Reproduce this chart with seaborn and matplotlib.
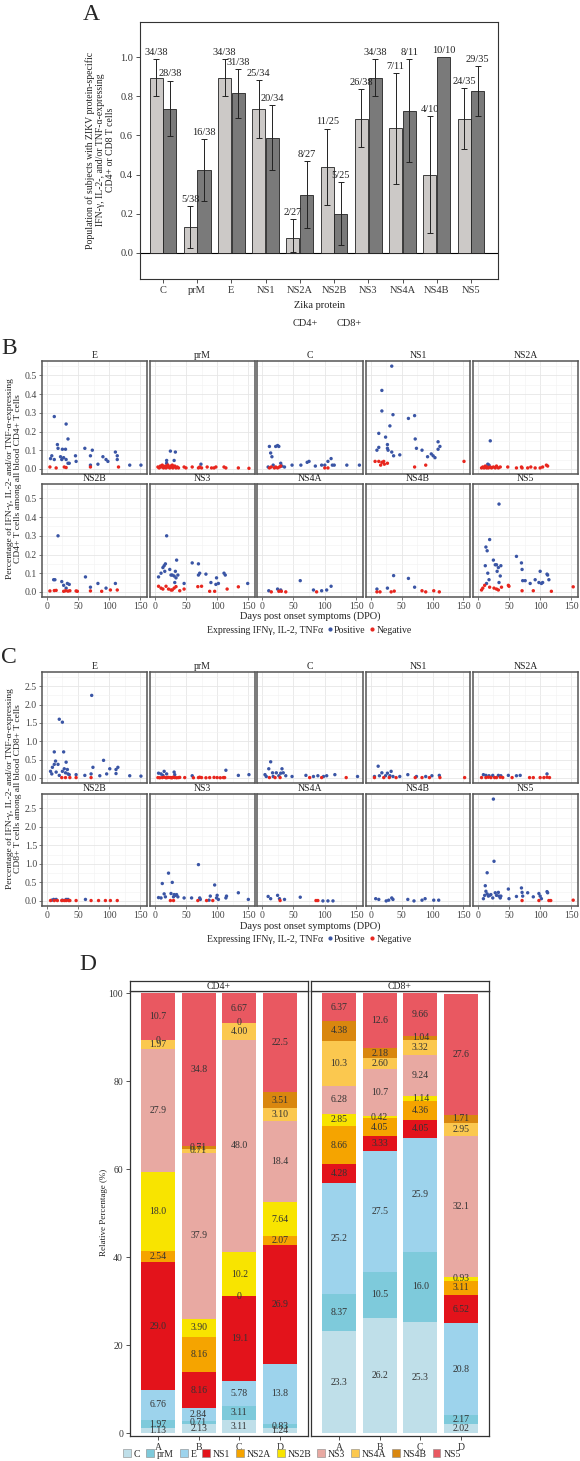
import numpy as np
import pandas as pd
import seaborn as sns
import matplotlib.pyplot as plt
from matplotlib.lines import Line2D
from matplotlib.patches import Patch
from matplotlib.ticker import FormatStrFormatter, MultipleLocator

# ---------------- data ----------------
proteins = ["C", "prM", "E", "NS1", "NS2A", "NS2B", "NS3", "NS4A", "NS4B", "NS5"]

# panel A: fraction of responders, with CI
cd4_prop = [0.895, 0.132, 0.895, 0.735, 0.074, 0.44, 0.684, 0.636, 0.40, 0.686]
cd4_lo = [0.80, 0.025, 0.80, 0.585, 0.005, 0.245, 0.54, 0.35, 0.10, 0.53]
cd4_hi = [0.99, 0.24, 0.99, 0.885, 0.175, 0.635, 0.835, 0.92, 0.70, 0.84]
cd4_lab = ["34/38", "5/38", "34/38", "25/34", "2/27", "11/25", "26/38", "7/11", "4/10", "24/35"]
cd8_prop = [0.737, 0.421, 0.816, 0.588, 0.296, 0.20, 0.895, 0.727, 1.0, 0.829]
cd8_lo = [0.595, 0.265, 0.69, 0.425, 0.125, 0.04, 0.80, 0.465, 1.0, 0.70]
cd8_hi = [0.88, 0.58, 0.94, 0.755, 0.47, 0.36, 0.99, 0.99, 1.0, 0.955]
cd8_lab = ["28/38", "16/38", "31/38", "20/34", "8/27", "5/25", "34/38", "8/11", "10/10", "29/35"]

# panels B / C: (days post onset, percentage) per protein
facet_order = ["E", "prM", "C", "NS1", "NS2A", "NS2B", "NS3", "NS4A", "NS4B", "NS5"]

cd4_pos = {
    "E": [(6, .055), (8, .07), (12, .28), (12, .05), (17, .13), (18, .11), (22, .065), (24, .05), (25, .105),
          (27, .06), (30, .105), (31, .24), (31, .05), (34, .16), (34, .03), (36, .03), (46, .07), (47, .04),
          (61, .11), (70, .07), (70, .02), (73, .10), (82, .025), (90, .065), (95, .05), (98, .04), (110, .09),
          (113, .07), (113, .05), (133, .02), (151, .02)],
    "prM": [(19, .045), (19, .03), (25, .095), (31, .045), (33, .09), (74, .025)],
    "C": [(10, .01), (12, .12), (14, .085), (16, .065), (18, .02), (22, .12), (25, .125), (27, .12), (30, .03),
          (32, .015), (36, .01), (48, .02), (62, .02), (72, .035), (75, .04), (85, .015), (95, .02), (100, .02),
          (105, .04), (110, .055), (112, .02), (115, .02), (135, .02), (155, .02)],
    "NS1": [(10, .10), (13, .115), (13, .19), (18, .42), (18, .31), (24, .17), (27, .13), (27, .11), (28, .10),
            (31, .23), (34, .09), (34, .55), (36, .29), (37, .07), (47, .075), (61, .27), (71, .285), (72, .16),
            (74, .11), (83, .10), (92, .065), (98, .08), (101, .07), (104, .06), (109, .145), (109, .105), (112, .12)],
    "NS2A": [(16, .025), (18, .02), (20, .15)],
    "NS2B": [(11, .065), (13, .065), (18, .30), (24, .055), (27, .035), (31, .02), (33, .045), (36, .04),
             (62, .08), (70, .025), (82, .045), (95, .02), (110, .045)],
    "NS3": [(6, .08), (10, .10), (13, .13), (15, .14), (16, .11), (17, .15), (19, .30), (24, .12), (26, .09),
            (28, .09), (31, .085), (32, .05), (33, .11), (34, .075), (35, .17), (37, .09), (47, .045), (60, .155),
            (70, .09), (70, .15), (72, .10), (82, .095), (90, .05), (98, .04), (99, .075), (102, .045), (111, .10),
            (113, .09), (149, .045)],
    "NS4A": [(11, .006), (25, .015), (30, .01), (61, .06), (82, .01), (95, .006), (103, .01), (110, .03)],
    "NS4B": [(10, .015), (27, .02), (37, .087), (61, .072), (71, .025)],
    "NS5": [(13, .24), (14, .045), (15, .22), (16, .10), (18, .065), (19, .28), (12, .14), (25, .17), (28, .145),
            (30, .145), (31, .11), (33, .13), (34, .05), (34, .47), (36, .085), (37, .14), (62, .19), (70, .155),
            (71, .12), (72, .06), (76, .06), (84, .045), (92, .065), (98, .05), (100, .11), (102, .045), (104, .05),
            (111, .095), (112, .09), (114, .065)],
}
cd4_neg = {
    "E": [(5, .01), (15, .005), (28, .01), (31, .007), (70, .01), (115, .01)],
    "prM": [(5, .01), (7, .005), (9, .015), (10, .01), (12, .02), (14, .005), (15, .01), (17, .015), (18, .005),
            (20, .01), (21, .02), (23, .01), (24, .005), (26, .015), (27, .01), (28, .02), (29, .005), (30, .01),
            (32, .015), (34, .005), (36, .01), (38, .005), (47, .01), (50, .005), (60, .01), (70, .005), (72, .01),
            (75, .005), (84, .01), (91, .005), (95, .005), (98, .01), (111, .01), (114, .005), (134, .005), (151, .003)],
    "C": [(12, .005), (15, .01), (20, .005), (22, .01), (25, .005), (28, .01), (30, .015), (100, .005), (105, .005)],
    "NS1": [(7, .04), (13, .04), (16, .02), (18, .035), (21, .04), (22, .025), (27, .03), (71, .01), (89, .02), (151, .04)],
    "NS2A": [(6, .005), (8, .01), (10, .005), (12, .015), (14, .005), (15, .01), (17, .005), (20, .01), (22, .005),
             (25, .01), (28, .005), (30, .015), (33, .005), (36, .01), (48, .01), (62, .005), (70, .01), (71, .005),
             (80, .005), (85, .01), (92, .005), (100, .005), (104, .01), (110, .02), (112, .015)],
    "NS2B": [(5, .005), (12, .007), (15, .008), (27, .003), (30, .006), (34, .004), (37, .006), (47, .005),
             (49, .003), (70, .005), (88, .003), (102, .01), (113, .01)],
    "NS3": [(6, .03), (10, .02), (13, .015), (18, .03), (22, .015), (26, .01), (28, .01), (31, .02), (34, .028),
            (40, .006), (47, .015), (69, .028), (75, .03), (88, .003), (96, .003), (116, .015), (134, .027)],
    "NS4A": [(15, .0), (27, .003), (31, .003), (38, .0), (87, .0)],
    "NS4B": [(10, .0), (15, .0), (33, .0), (38, .004), (83, .006), (89, .0), (102, .006), (111, .0)],
    "NS5": [(6, .01), (8, .02), (11, .035), (19, .025), (26, .02), (30, .015), (33, .01), (38, .025), (49, .035),
            (50, .03), (71, .006), (89, .006), (118, .003), (153, .027)],
}

cd8_pos = {
    "E": [(6, .18), (8, .11), (9, .29), (12, .37), (12, .71), (14, .46), (15, .16), (18, .37), (20, 1.6), (20, .07),
          (25, 1.52), (25, .18), (27, .71), (28, .25), (30, .14), (31, .43), (33, .23), (34, .11), (36, .09),
          (47, .09), (61, .07), (71, .11), (72, 2.25), (74, .29), (85, .06), (91, .48), (96, .11), (101, .25),
          (111, .23), (111, .12), (114, .29), (133, .06), (151, .05)],
    "prM": [(6, .13), (10, .11), (13, .07), (15, .18), (19, .11), (31, .16), (32, .09), (60, .06), (114, .21),
            (134, .07), (151, .09)],
    "C": [(5, .09), (7, .04), (11, .25), (14, .44), (17, .14), (18, .04), (23, .14), (27, .06), (30, .13), (32, .25),
          (34, .14), (38, .06), (48, .04), (70, .07), (82, .04), (89, .06), (98, .04), (103, .06), (116, .09), (152, .04)],
    "NS1": [(6, .04), (12, .32), (14, .06), (18, .14), (24, .06), (27, .13), (31, .06), (33, .18), (36, .04),
            (47, .04), (60, .09), (74, .04), (89, .04), (99, .06), (111, .07)],
    "NS2A": [(9, .09), (13, .07), (18, .06), (24, .07), (33, .07), (37, .06), (49, .07), (62, .06), (68, .07), (111, .11)],
    "NS2B": [(8, .02), (11, .04), (15, .04), (25, .02), (31, .04), (34, .04), (62, .04)],
    "NS3": [(6, .09), (10, .08), (12, .47), (15, .19), (17, .11), (22, .75), (26, .20), (28, .50), (30, .11),
            (31, .17), (33, .15), (35, .17), (37, .11), (47, .08), (59, .08), (70, .98), (72, .08), (73, .04),
            (87, .02), (89, .13), (96, .43), (99, .08), (100, .15), (102, .04), (114, .08), (115, .13), (134, .22),
            (150, .04)],
    "NS4A": [(10, .12), (14, .06), (25, .15), (28, .06), (36, .04), (61, .10), (97, .0), (105, .0), (113, .0)],
    "NS4B": [(8, .06), (13, .04), (25, .0), (29, .02), (34, .08), (36, .04), (60, .04), (70, .0), (83, .02),
             (88, .06), (102, .02), (110, .02)],
    "NS5": [(9, .06), (11, .15), (12, .41), (13, .26), (15, .76), (15, .19), (17, .13), (19, .15), (21, .17),
            (24, .08), (25, 2.75), (26, 1.07), (28, .22), (30, .15), (33, .23), (34, .13), (36, .08), (37, .13),
            (49, .32), (50, .06), (62, .12), (70, .35), (71, .23), (72, .13), (80, .22), (89, .11), (98, .20),
            (100, .13), (102, .06), (111, .25), (112, .22)],
}
cd8_neg = {
    "E": [(24, .01), (30, .01), (37, .01), (47, .01), (71, .01)],
    "prM": [(5, .01), (8, .005), (12, .01), (15, .02), (18, .005), (20, .01), (22, .015), (25, .01), (27, .005),
            (28, .01), (30, .02), (32, .01), (35, .005), (38, .01), (40, .015), (48, .01), (62, .005), (70, .01),
            (72, .02), (75, .01), (82, .005), (88, .01), (95, .015), (100, .01), (105, .005), (110, .01), (112, .01)],
    "C": [(12, .01), (21, .01), (29, .01), (76, .01), (95, .01), (134, .01)],
    "NS1": [(6, .01), (21, .01), (30, .01), (41, .01), (72, .01), (83, .01), (95, .01), (112, .01), (152, .01)],
    "NS2A": [(6, .01), (13, .01), (17, .02), (21, .01), (27, .01), (30, .01), (36, .02), (40, .01), (55, .01),
             (83, .01), (89, .01), (100, .01), (106, .01), (111, .02), (115, .01)],
    "NS2B": [(6, .01), (12, .01), (17, .01), (24, .01), (28, .01), (31, .01), (35, .01), (37, .01), (47, .01),
             (71, .01), (83, .01), (94, .01), (102, .01), (113, .01)],
    "NS3": [(25, .01), (30, .01), (69, .01), (83, .01), (93, .01)],
    "NS4A": [(29, .01), (86, .01), (89, .01)],
    "NS4B": [],
    "NS5": [(71, .01), (98, .01), (114, .01), (117, .01), (153, .02)],
}

# panel D: relative percentage of each protein, groups A-D
groups = ["A", "B", "C", "D"]
d_cd4 = {
    "C": [1.13, 2.13, 3.11, 1.24], "prM": [1.97, 0.71, 3.11, 0.83], "E": [6.76, 2.84, 5.78, 13.8],
    "NS1": [29.0, 8.16, 19.1, 26.9], "NS2A": [2.54, 8.16, 0, 2.07], "NS2B": [18.0, 3.90, 10.2, 7.64],
    "NS3": [27.9, 37.9, 48.0, 18.4], "NS4A": [1.97, 0.71, 4.00, 3.10], "NS4B": [0, 0.71, 0, 3.51],
    "NS5": [10.7, 34.8, 6.67, 22.5],
}
d_cd8 = {
    "C": [23.3, 26.2, 25.3, 2.02], "prM": [8.37, 10.5, 16.0, 2.17], "E": [25.2, 27.5, 25.9, 20.8],
    "NS1": [4.28, 3.33, 4.05, 6.52], "NS2A": [8.66, 4.05, 4.36, 3.11], "NS2B": [2.85, 0.42, 1.14, 0.93],
    "NS3": [6.28, 10.7, 9.24, 32.1], "NS4A": [10.3, 2.60, 3.32, 2.95], "NS4B": [4.38, 2.18, 1.04, 1.71],
    "NS5": [6.37, 12.6, 9.66, 27.6],
}
d_colors = ["#bfdfe9", "#7ecadb", "#9dd3ec", "#e3131b", "#f5a400", "#f8e400",
            "#e8a9a2", "#fbc84f", "#d9870f", "#e95861"]

# ---------------- figure ----------------
W, H = 580, 1461
sns.set_theme(style="white")
plt.rcParams["font.family"] = ["Liberation Serif", "DejaVu Serif"]
fig = plt.figure(figsize=(W / 100, H / 100), dpi=100)
fig.patch.set_facecolor("white")


def add_ax(x0, y0, x1, y1):
    return fig.add_axes([x0 / W, 1 - y1 / H, (x1 - x0) / W, (y1 - y0) / H])


def fx(x):
    return x / W


def fy(y):
    return 1 - y / H


# ---- panel A ----
fig.text(fx(91), fy(15), "A", fontsize=17, ha="center", va="center")
axA = add_ax(140, 22, 498, 279)
dfA = pd.DataFrame({"protein": proteins * 2,
                    "cell": ["CD4+"] * 10 + ["CD8+"] * 10,
                    "prop": cd4_prop + cd8_prop})
sns.barplot(data=dfA, x="protein", y="prop", hue="cell", order=proteins,
            hue_order=["CD4+", "CD8+"], palette=["#cdc9c6", "#7a7a7a"],
            edgecolor="#222222", linewidth=0.6, width=0.8, gap=0.05,
            errorbar=None, legend=False, ax=axA)
axA.axhline(0, color="black", lw=0.8, zorder=0)
for p in axA.patches:
    if p.get_width() <= 0:
        continue
    cx = p.get_x() + p.get_width() / 2
    i = int(round(cx))
    if cx > i:
        val, lo, hi, lab = cd8_prop[i], cd8_lo[i], cd8_hi[i], cd8_lab[i]
    else:
        val, lo, hi, lab = cd4_prop[i], cd4_lo[i], cd4_hi[i], cd4_lab[i]
    if hi > lo:
        axA.errorbar(cx, val, yerr=[[val - lo], [hi - val]], fmt="none",
                     ecolor="#222222", elinewidth=0.7, capsize=2.3, capthick=0.7)
    axA.annotate(lab, (cx, hi), xytext=(0, 1.5), textcoords="offset points",
                 ha="center", va="bottom", fontsize=7.5, color="#222222")
axA.set_xlim(-0.67, 9.79)
axA.set_ylim(-0.133, 1.179)
axA.set_yticks(np.arange(0, 1.01, 0.2))
axA.yaxis.set_major_formatter(FormatStrFormatter("%.1f"))
axA.set_xlabel("")
axA.set_ylabel("")
axA.tick_params(bottom=True, left=True, length=3, width=0.6, colors="#333333",
                labelsize=7.5, pad=2)
for s in axA.spines.values():
    s.set_color("#333333")
    s.set_linewidth(0.8)
fig.text(fx(100), fy(150), "Population of subjects with ZIKV protein-specific\n"
         "IFN-γ, IL-2-, and/or TNF-α-expressing\nCD4+ or CD8 T cells",
         rotation=90, ha="center", va="center", fontsize=7, linespacing=1.15, color="#222222")
fig.text(fx(319), fy(305), "Zika protein", ha="center", va="center", fontsize=7.5, color="#222222")
fig.legend(handles=[Patch(facecolor="white", edgecolor="none")] * 2, labels=["CD4+", "CD8+"],
           ncol=2, loc="center", bbox_to_anchor=(fx(322), fy(323)), frameon=False,
           fontsize=7.5, handlelength=0.8, handletextpad=0.2, columnspacing=0.8)

# ---- panels B and C ----
facet_cols = [(42, 147), (150, 255), (257, 363), (366, 470), (473, 578)]
pos_col, neg_col = "#3a55a5", "#e8261e"


def draw_facets(pos, neg, rows, ylim, ystep, ylab, xlab_y, leg_y, letter, letter_y):
    fig.text(fx(9), fy(letter_y), letter, fontsize=17, ha="center", va="center")
    for r, (y0, y1) in enumerate(rows):
        for c, (x0, x1) in enumerate(facet_cols):
            prot = facet_order[r * 5 + c]
            ax = add_ax(x0, y0, x1, y1)
            pts = pos[prot] + neg[prot]
            df = pd.DataFrame(pts, columns=["day", "val"])
            df["status"] = ["Positive"] * len(pos[prot]) + ["Negative"] * len(neg[prot])
            sns.scatterplot(data=df, x="day", y="val", hue="status",
                            hue_order=["Positive", "Negative"], palette=[pos_col, neg_col],
                            s=6, linewidth=0, legend=False, ax=ax)
            ax.set_xlim(-7.7, 160.7)
            ax.set_ylim(*ylim)
            ax.set_xticks([0, 50, 100, 150])
            ax.xaxis.set_minor_locator(MultipleLocator(25))
            ax.yaxis.set_major_locator(MultipleLocator(ystep))
            ax.yaxis.set_minor_locator(MultipleLocator(ystep / 2))
            ax.yaxis.set_major_formatter(FormatStrFormatter("%.1f"))
            ax.grid(True, which="major", color="#e6e6e6", lw=0.6)
            ax.grid(True, which="minor", color="#f2f2f2", lw=0.4)
            ax.set_axisbelow(True)
            ax.set_xlabel("")
            ax.set_ylabel("")
            ax.set_title(prot, fontsize=7, pad=2.5, color="#222222")
            ax.tick_params(which="major", length=2, width=0.5, colors="#444444",
                           labelsize=7, pad=1.5,
                           bottom=(r == 1), labelbottom=(r == 1),
                           left=(c == 0), labelleft=(c == 0))
            ax.tick_params(which="minor", length=0)
            for s in ax.spines.values():
                s.set_color("#555555")
                s.set_linewidth(1.1)
    mid = (rows[0][0] + rows[1][1]) / 2
    fig.text(fx(14), fy(mid), ylab, rotation=90, ha="center", va="center",
             fontsize=6.8, linespacing=1.15, color="#222222")
    fig.text(fx(310), fy(xlab_y), "Days post onset symptoms (DPO)", ha="center",
             va="center", fontsize=7.5, color="#222222")
    handles = [Line2D([], [], ls="none"),
               Line2D([], [], marker="o", ls="none", color=pos_col, ms=2),
               Line2D([], [], marker="o", ls="none", color=neg_col, ms=2)]
    fig.legend(handles=handles, labels=["Expressing IFNγ, IL-2, TNFα", "Positive", "Negative"],
               ncol=3, loc="center", bbox_to_anchor=(fx(306), fy(leg_y)), frameon=False,
               fontsize=7, handlelength=0.5, handletextpad=0.2, columnspacing=0.4)


draw_facets(cd4_pos, cd4_neg, [(361, 474), (484, 597)], (-0.0275, 0.5775), 0.1,
            "Percentage of IFN-γ, IL-2- and/or TNF-α-expressing\nCD4+ T cells among all blood CD4+ T cells",
            616, 630, "B", 349)
draw_facets(cd8_pos, cd8_neg, [(672, 783), (794, 906)], (-0.1375, 2.8875), 0.5,
            "Percentage of IFN-γ, IL-2- and/or TNF-α-expressing\nCD8+ T cells among all blood CD8+ T cells",
            926, 939, "C", 657)

# ---- panel D ----
fig.text(fx(88), fy(965), "D", fontsize=17, ha="center", va="center")


def fmt_val(v):
    if v == 0:
        return "0"
    return f"{v:.2f}" if v < 10 else f"{v:.1f}"


for k, (title, data, x0, x1) in enumerate([("CD4+", d_cd4, 130, 308), ("CD8+", d_cd8, 311, 489)]):
    ax = add_ax(x0, 991, x1, 1436)
    bottom = np.zeros(len(groups))
    xpos = np.arange(len(groups))
    for prot, col in zip(proteins, d_colors):
        vals = np.array(data[prot])
        ax.bar(xpos, vals, bottom=bottom, width=0.83, color=col, edgecolor="none")
        for xi, v, b in zip(xpos, vals, bottom):
            ax.text(xi, b + v / 2, fmt_val(v), ha="center", va="center",
                    fontsize=7, color="#333333")
        bottom += vals
    ax.set_xlim(-0.69, 3.69)
    ax.set_ylim(-0.6, 100.5)
    ax.set_xticks(xpos)
    ax.set_xticklabels(groups)
    ax.set_yticks(np.arange(0, 101, 20))
    ax.tick_params(bottom=True, left=(k == 0), labelleft=(k == 0), length=3, width=0.6,
                   colors="#333333", labelsize=7, pad=2)
    ax.grid(False)
    for s in ax.spines.values():
        s.set_color("#333333")
        s.set_linewidth(0.9)
    sax = add_ax(x0, 981, x1, 991)
    sax.set_xticks([])
    sax.set_yticks([])
    sax.set_facecolor("white")
    for s in sax.spines.values():
        s.set_color("#333333")
        s.set_linewidth(0.9)
    sax.text(0.5, 0.45, title, ha="center", va="center", fontsize=7, color="#222222",
             transform=sax.transAxes)

fig.text(fx(104), fy(1212), "Relative Percentage (%)", rotation=90, ha="center",
         va="center", fontsize=6.5, color="#222222")
fig.legend(handles=[Patch(facecolor=c, edgecolor="#888888", lw=0.4) for c in d_colors],
           labels=proteins, ncol=10, loc="center", bbox_to_anchor=(fx(292), fy(1454)),
           frameon=False, fontsize=7, handlelength=0.8, handleheight=0.8,
           handletextpad=0.3, columnspacing=0.6)

fig.savefig("out.png", dpi=100, facecolor="white")
